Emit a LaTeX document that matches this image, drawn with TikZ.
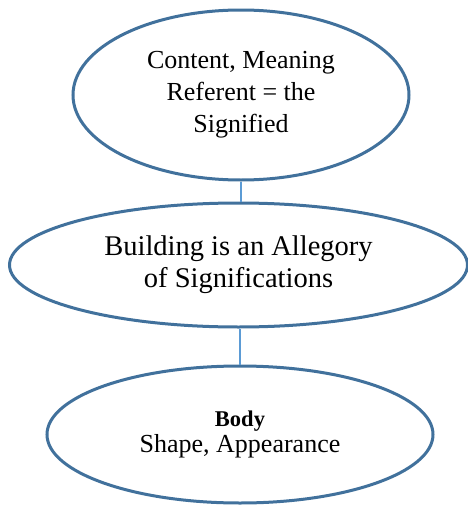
\documentclass[tikz,border=0pt]{standalone}
\usepackage{fontspec}
\setmainfont{Liberation Serif}
\usetikzlibrary{shapes.geometric}
\definecolor{ringblue}{HTML}{41719C}
\definecolor{linkblue}{HTML}{5B9BD5}
\begin{document}
\begin{tikzpicture}[x=1pt,y=-1pt,
  oval/.style={ellipse, draw=ringblue, line width=3pt, fill=white, inner sep=0pt, align=center, text=black},
  link/.style={draw=linkblue, line width=2.2pt}]
\useasboundingbox (0,0) rectangle (468,506);
\node[oval, minimum width=336pt, minimum height=170pt, font=\fontsize{26}{32}\selectfont] (top) at (241,95)
  {Content, Meaning\\Referent = the\\Signified};
\node[oval, minimum width=458pt, minimum height=124pt, font=\fontsize{28.5}{32}\selectfont] (mid) at (238.5,265)
  {Building is an Allegory\\of Significations};
\node[oval, minimum width=386pt, minimum height=137pt] (bot) at (240,434.5)
  {{\fontsize{22.5}{27}\selectfont\bfseries Body}\\[2pt]{\fontsize{26}{30}\selectfont Shape, Appearance}};
\begin{scope}[on background layer/.try]
\end{scope}
\draw[link] (top.south) -- (top.south |- mid.north);
\draw[link] (bot.north |- mid.south) -- (bot.north);
\end{tikzpicture}
\end{document}
